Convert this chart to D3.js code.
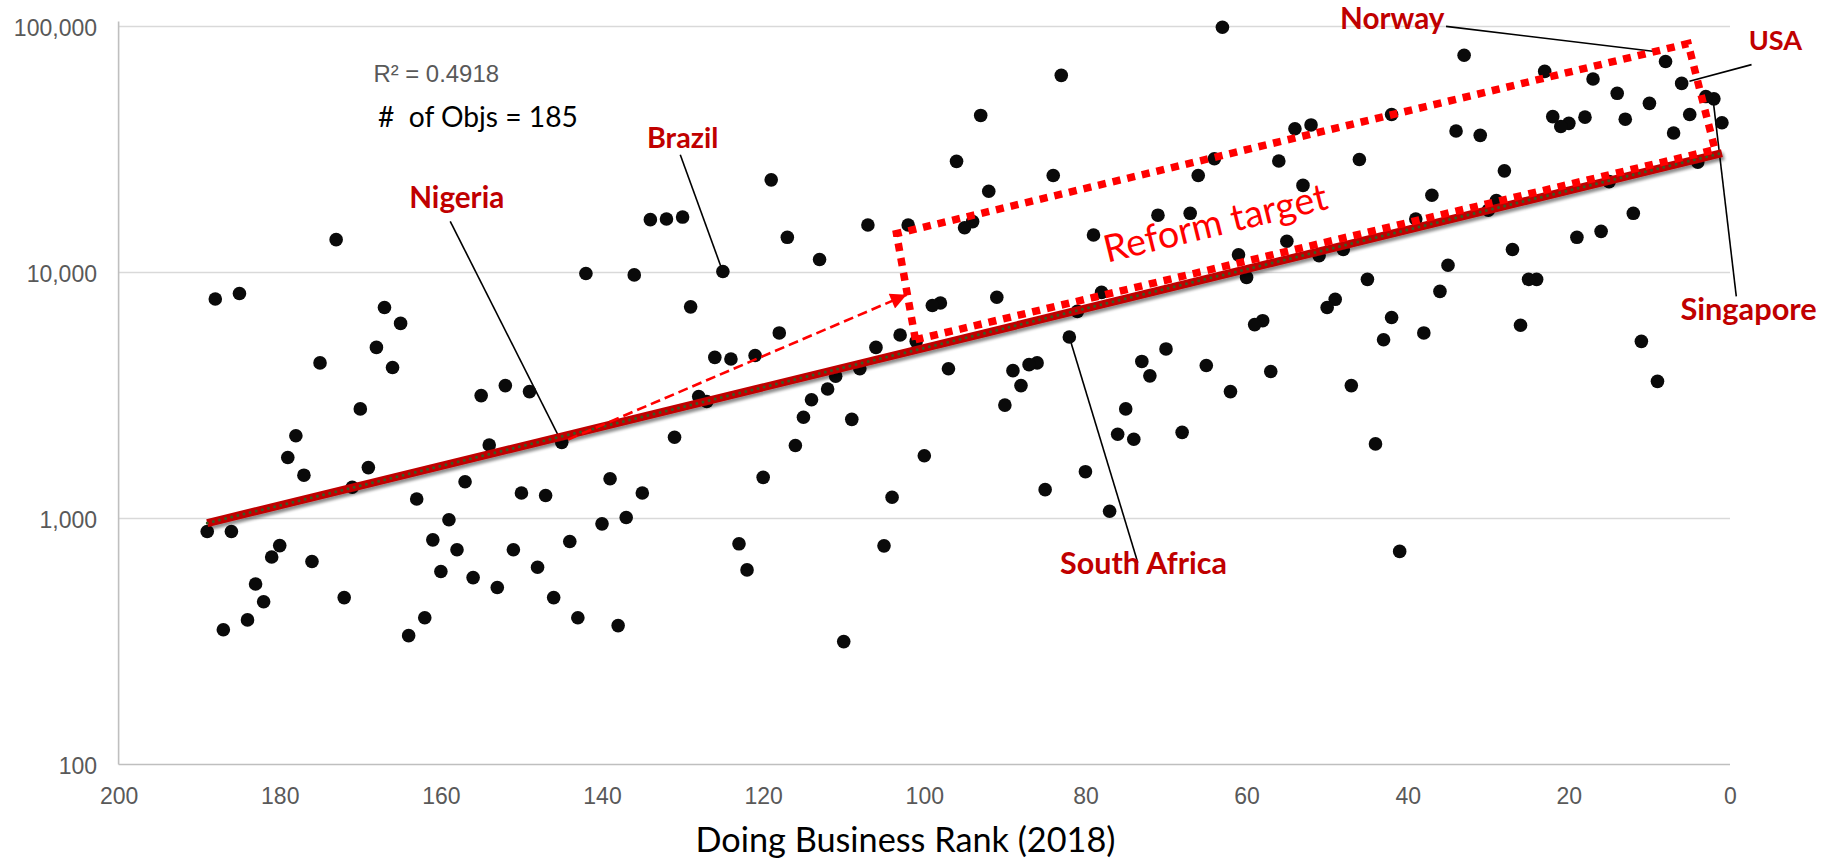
<!DOCTYPE html>
<html>
<head>
<meta charset="utf-8">
<script src="https://cdn.jsdelivr.net/npm/d3@7"></script>
<style>
  html, body { margin: 0; padding: 0; background: #ffffff; }
  svg { display: block; }
</style>
</head>
<body>
<svg id="chart" width="1837" height="861"></svg>
<script>
// ---------------- DATA ----------------
const ranks = [
  1,2,3,4,5,6,7,8,9,10,
  11,12,13,14,15,16,17,18,19,20,
  21,22,23,24,25,26,27,28,29,30,
  31,33,34,35,36,37,38,39,
  41,42,42,43,44,45,46,47,48,49,50,
  51,52,53,54,55,56,57,58,59,60,
  61,62,63,64,65,66,67,68,
  70,71,72,73,74,75,76,77,78,79,80,
  81,82,83,84,85,86,87,88,89,90,
  91,92,93,94,95,96,97,98,99,100,
  101,102,103,104,105,106,107,108,109,110,
  111,112,113,114,115,116,117,118,119,120,
  121,122,123,124,125,126,127,128,129,130,
  131,132,134,135,136,137,138,139,140,
  142,143,144,145,146,147,148,149,150,
  151,152,153,154,155,156,157,158,159,160,
  161,162,163,164,165,166,167,168,169,170,
  171,172,173,175,176,177,178,179,180,
  181,182,183,184,185,186,187,188,189
];
const gdpPerCapita = [
  40600,50800,51900,28100,43900,58700,36900,72100,3610,48700,
  5250,17400,42000,53500,23400,14700,61200,42800,13900,40400,
  39200,43000,65700,9380,9380,6100,12400,25900,19600,17900,
  36100,76400,37600,10700,8380,20600,5680,16500,
  735,43900,6560,5330,2010,9380,28800,3470,12400,7780,7210,
  11700,39800,22600,38400,13400,28400,3960,6370,6140,9550,
  11800,3280,99300,29000,4190,24800,17400,2240,
  4890,17100,3800,4350,2100,2790,2200,1070,8300,14200,1550,
  6950,5470,63300,24800,1310,4290,4220,3470,3990,2890,
  7930,21400,43500,16100,15200,28300,4060,7520,7340,1800,
  5250,15600,5570,1220,774,4960,15600,4060,2530,316,
  3790,3360,11300,3040,2580,1980,13900,5680,23800,1470,
  4600,618,789,4450,10100,4520,2990,3130,7250,16800,
  2140,16500,16400,1270,9780,1010,367,1450,951,
  9910,395,806,2040,477,1240,634,3280,1270,
  746,3470,524,1990,3160,575,1410,746,988,609,
  819,395,1200,334,6210,4110,7210,4960,1610,2790,
  1340,477,13600,4290,669,1500,2170,1770,776,
  697,459,542,387,8220,885,353,7800,885
];

// exponential trendline end points (straight on log scale)
const trendRanks  = [189, 1];
const trendValues = [958, 30600];

// "Reform target" box corners (rank, value)
const boxRanks  = [101.1, 103.45, 5.2, 1.86];
const boxValues = [5330, 14380, 85200, 31580];

// dashed arrow from Nigeria to the box
const arrowRanks  = [145, 102.2];
const arrowValues = [2040, 8120];

// labelled countries
const labelNames  = ["Nigeria", "Brazil", "South Africa", "Norway", "USA", "Singapore"];
const labelRanks  = [145, 125, 82, 8, 6, 2];
const labelValues = [2040, 10100, 5470, 72100, 58700, 50800];

const xTicks = [200, 180, 160, 140, 120, 100, 80, 60, 40, 20, 0];
const yTicks = [100, 1000, 10000, 100000];

const r2Text   = "R\u00B2 = 0.4918";
const objsText = "#  of Objs = 185";
const xTitle   = "Doing Business Rank (2018)";
const boxLabel = "Reform target";
const boxLabelRank = 63.5, boxLabelValue = 14120;

// ---------------- LAYOUT ----------------
const plotLeft = 118.6, plotRight = 1730, plotTop = 26.5, plotBottom = 764.5;

// label layout: [labelDx, labelDy, lineStartDx, lineStartDy, lineEndDx, lineEndDy, width]
const labelLayout = {
  "Nigeria":      [-105, -234.7, -111.5, -221, 0, 0, 95],
  "Brazil":       [-40.2, -123.7, -42.6, -116.7, -2, -5, 71.5],
  "South Africa": [74.2, 236.8, 68.5, 225.8, 0, 0, 167],
  "Norway":       [-273.3, -32.8, -219.5, -35.1, -6.5, -9.5, 104.4],
  "USA":          [93.8, -33.8, 69.9, -18.8, 7.8, -2.1, 53.4],
  "Singapore":    [34.7, 220.8, 22.4, 197.5, -1, -1, 136.4]
};

const svg = d3.select("#chart");

const x = d3.scaleLinear().domain([200, 0]).range([plotLeft, plotRight]);
const y = d3.scaleLog().domain([100, 100000]).range([plotBottom, plotTop]);

// fit text to a target width
function fitWidth(sel, target) {
  sel.each(function() {
    const fs = parseFloat(this.getAttribute("font-size"));
    const len = this.getComputedTextLength();
    if (len > 0) this.setAttribute("font-size", (fs * target / len).toFixed(2));
  });
}

const defs = svg.append("defs");
const shadow = defs.append("filter").attr("id", "shadow")
  .attr("x", "-5%").attr("y", "-50%").attr("width", "110%").attr("height", "200%");
shadow.append("feGaussianBlur").attr("in", "SourceAlpha").attr("stdDeviation", 1.8).attr("result", "b");
shadow.append("feOffset").attr("in", "b").attr("dx", 1.5).attr("dy", 3).attr("result", "o");
shadow.append("feComponentTransfer").attr("in", "o").attr("result", "oc")
  .append("feFuncA").attr("type", "linear").attr("slope", 0.45);
const merge = shadow.append("feMerge");
merge.append("feMergeNode").attr("in", "oc");
merge.append("feMergeNode").attr("in", "SourceGraphic");

defs.append("marker").attr("id", "arrowhead")
  .attr("viewBox", "0 0 10 10").attr("refX", 10).attr("refY", 5)
  .attr("markerUnits", "userSpaceOnUse")
  .attr("markerWidth", 19).attr("markerHeight", 16)
  .attr("orient", "auto")
  .append("path").attr("d", "M0,0 L10,5 L0,10 Z").attr("fill", "#ff0000");

// ---------------- GRID & AXES ----------------
svg.append("g").selectAll("line").data(yTicks.filter(t => t > 100)).join("line")
  .attr("x1", plotLeft).attr("x2", plotRight)
  .attr("y1", d => y(d)).attr("y2", d => y(d))
  .attr("stroke", "#d9d9d9").attr("stroke-width", 1.5);

const yAxis = svg.append("g").attr("transform", `translate(${plotLeft},0)`)
  .call(d3.axisLeft(y).tickValues(yTicks).tickFormat(d3.format(",")).tickSize(0).tickPadding(21.6));
yAxis.select(".domain").remove();
yAxis.selectAll("text").attr("font-family", "'Liberation Sans', Arial, sans-serif")
  .attr("font-size", 23).attr("fill", "#595959").attr("dy", "0.4em");

const xAxis = svg.append("g").attr("transform", `translate(0,${plotBottom})`)
  .call(d3.axisBottom(x).tickValues(xTicks).tickFormat(d3.format("d")).tickSize(0).tickPadding(23.2));
xAxis.select(".domain").remove();
xAxis.selectAll("text").attr("font-family", "'Liberation Sans', Arial, sans-serif")
  .attr("font-size", 23).attr("fill", "#595959");

svg.append("line").attr("x1", plotLeft).attr("x2", plotLeft).attr("y1", plotTop - 5).attr("y2", plotBottom)
  .attr("stroke", "#bfbfbf").attr("stroke-width", 1.6);
svg.append("line").attr("x1", plotLeft).attr("x2", plotRight).attr("y1", plotBottom).attr("y2", plotBottom)
  .attr("stroke", "#bfbfbf").attr("stroke-width", 1.6);

svg.append("text").attr("x", 905.5).attr("y", 852)
  .attr("text-anchor", "middle").attr("font-family", "Lato, 'Open Sans', sans-serif")
  .attr("font-size", 32).attr("fill", "#000").text(xTitle)
  .call(fitWidth, 420);

// ---------------- ANNOTATION TEXT ----------------
svg.append("text").attr("x", 373.4).attr("y", 81.5)
  .attr("font-family", "'Liberation Sans', Arial, sans-serif")
  .attr("font-size", 23).attr("fill", "#595959").text(r2Text)
  .call(fitWidth, 125.7);

svg.append("text").attr("x", 378).attr("y", 126.5)
  .attr("font-family", "Lato, 'Open Sans', sans-serif").style("white-space", "pre")
  .attr("font-size", 29).attr("fill", "#000").text(objsText)
  .call(fitWidth, 200);

// ---------------- LEADER LINES ----------------
const labels = labelNames.map((n, i) => ({ name: n, px: x(labelRanks[i]), py: y(labelValues[i]), L: labelLayout[n] }));

svg.append("g").selectAll("line").data(labels).join("line")
  .attr("x1", d => d.px + d.L[2]).attr("y1", d => d.py + d.L[3])
  .attr("x2", d => d.px + d.L[4]).attr("y2", d => d.py + d.L[5])
  .attr("stroke", "#000").attr("stroke-width", 1.6);

// ---------------- POINTS ----------------
const pts = ranks.map((r, i) => ({ r, v: gdpPerCapita[i] }));
svg.append("g").selectAll("circle").data(pts).join("circle")
  .attr("cx", d => x(d.r)).attr("cy", d => y(d.v)).attr("r", 6.8)
  .attr("fill", "#0a0a0a");

// ---------------- TRENDLINE ----------------
const trend = trendRanks.map((r, i) => [x(r), y(trendValues[i])]);
const lineGen = d3.line();
svg.append("path").attr("d", lineGen(trend))
  .attr("stroke", "#c00000").attr("stroke-width", 8).attr("fill", "none")
  .attr("filter", "url(#shadow)");
svg.append("path").attr("d", lineGen(trend))
  .attr("stroke", "#3a5a24").attr("stroke-width", 3).attr("fill", "none")
  .attr("stroke-linecap", "round").attr("stroke-dasharray", "0 6.3");

// ---------------- REFORM BOX ----------------
const box = boxRanks.map((r, i) => [x(r), y(boxValues[i])]);
svg.append("path").attr("d", d3.line().curve(d3.curveLinearClosed)(box))
  .attr("fill", "none").attr("stroke", "#ff0000").attr("stroke-width", 7.5)
  .attr("stroke-dasharray", "8 7");

const ang = Math.atan2(trend[1][1] - trend[0][1], trend[1][0] - trend[0][0]) * 180 / Math.PI;
svg.append("text")
  .attr("transform", `translate(${x(boxLabelRank)},${y(boxLabelValue)}) rotate(${ang})`)
  .attr("text-anchor", "middle").attr("font-family", "Lato, 'Open Sans', sans-serif")
  .attr("font-size", 36).attr("fill", "#ff0000").text(boxLabel)
  .call(fitWidth, 229);

// ---------------- ARROW ----------------
const arrow = arrowRanks.map((r, i) => [x(r), y(arrowValues[i])]);
const dxA = arrow[1][0] - arrow[0][0], dyA = arrow[1][1] - arrow[0][1];
const lenA = Math.hypot(dxA, dyA);
const startA = [arrow[0][0] + dxA / lenA * 7, arrow[0][1] + dyA / lenA * 7];
svg.append("path").attr("d", lineGen([startA, arrow[1]]))
  .attr("fill", "none").attr("stroke", "#ff0000").attr("stroke-width", 2.6)
  .attr("stroke-dasharray", "10 5").attr("marker-end", "url(#arrowhead)");

// ---------------- COUNTRY LABELS ----------------
svg.append("g").selectAll("text").data(labels).join("text")
  .attr("x", d => d.px + d.L[0]).attr("y", d => d.py + d.L[1])
  .attr("text-anchor", "middle").attr("font-family", "Lato, 'Open Sans', sans-serif")
  .attr("font-weight", "bold").attr("font-size", 28).attr("fill", "#c00000")
  .text(d => d.name)
  .each(function(d) { d3.select(this).call(fitWidth, d.L[6]); });
</script>
</body>
</html>
